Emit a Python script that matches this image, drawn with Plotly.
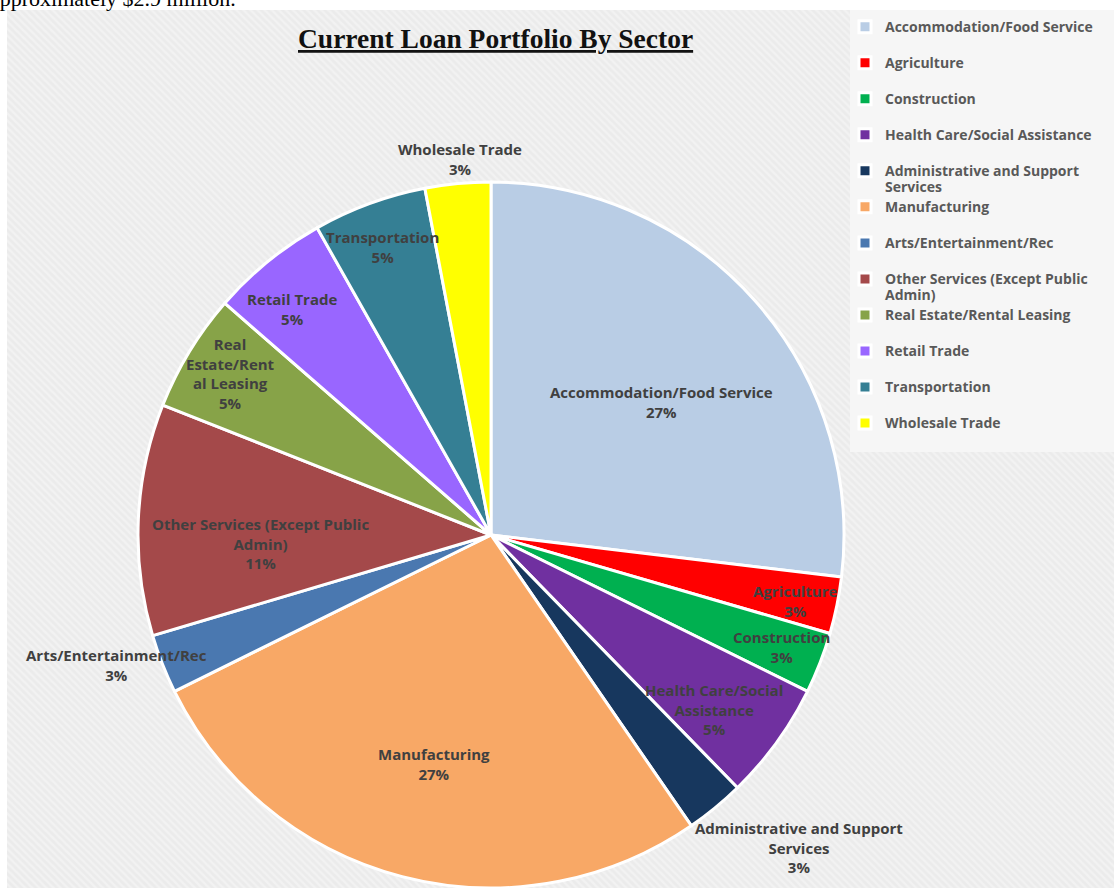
import math
import plotly.graph_objects as go

# ---------------- data ----------------
sectors = [
    "Accommodation/Food Service",
    "Agriculture",
    "Construction",
    "Health Care/Social Assistance",
    "Administrative and Support Services",
    "Manufacturing",
    "Arts/Entertainment/Rec",
    "Other Services (Except Public Admin)",
    "Real Estate/Rental Leasing",
    "Retail Trade",
    "Transportation",
    "Wholesale Trade",
]
shares = [26.9, 2.6, 2.8, 5.4, 2.7, 27.3, 2.7, 10.6, 5.4, 5.4, 5.2, 3.0]

# display text (line breaks as in the original)
slice_text = [
    "Accommodation/Food Service",
    "Agriculture",
    "Construction",
    "Health Care/Social<br>Assistance",
    "Administrative and Support<br>Services",
    "Manufacturing",
    "Arts/Entertainment/Rec",
    "Other Services (Except Public<br>Admin)",
    "Real<br>Estate/Rent<br>al Leasing",
    "Retail Trade",
    "Transportation",
    "Wholesale Trade",
]
legend_lines = [
    ["Accommodation/Food Service", " "],
    ["Agriculture", " "],
    ["Construction", " "],
    ["Health Care/Social Assistance", " "],
    ["Administrative and Support", "Services"],
    ["Manufacturing", " "],
    ["Arts/Entertainment/Rec", " "],
    ["Other Services (Except Public", "Admin)"],
    ["Real Estate/Rental Leasing", " "],
    ["Retail Trade", " "],
    ["Transportation", " "],
    ["Wholesale Trade", " "],
]

# ---------------- style ----------------
colors = ["#b9cde5", "#ff0000", "#00b050", "#7030a0", "#17375e", "#f8a866",
          "#4a78b0", "#a4494a", "#87a348", "#9966ff", "#357f94", "#ffff00"]
label_radius = [0.612, 0.884, 0.881, 0.803, 1.243, 0.669, 1.124, 0.653, 0.868, 0.853, 0.873, 1.068]
label_nudge_deg = [3.7, 0.7, -0.2, 2.0, -5.1, -0.7, 2.3, -4.7, 0.5, -2.1, -0.5, 0.7]

W, H = 1114, 888
CX, CY, R = 491, 535, 353   # pie centre / radius in pixels

legend_text = ["<br>".join(f"<span style='font-size:14px'>{ln}</span>" for ln in lines)
               for lines in legend_lines]

fig = go.Figure()

# striped chart background (decorative)
fig.add_trace(go.Scatter(
    x=[7 / W, 1, 1, 7 / W, 7 / W], y=[0, 0, 1 - 10 / H, 1 - 10 / H, 0],
    mode="lines", fill="toself", line=dict(width=0),
    fillcolor="#eeeeee",
    fillpattern=dict(shape="\\", bgcolor="#ebebeb", fgcolor="#f9f9f9", size=5, solidity=0.45),
    hoverinfo="skip", showlegend=False,
))

fig.add_trace(go.Pie(
    labels=legend_text,
    values=shares,
    sort=False,
    direction="clockwise",
    rotation=0,
    textinfo="none",
    marker=dict(colors=colors, line=dict(color="white", width=3)),
    domain=dict(x=[(CX - R) / W, (CX + R) / W], y=[(H - CY - R) / H, (H - CY + R) / H]),
    customdata=sectors,
    hovertemplate="%{customdata}: %{percent}<extra></extra>",
))

annotations = []
total = sum(shares)
cum = 0.0
for name, v, rf, nd in zip(slice_text, shares, label_radius, label_nudge_deg):
    mid = (cum + v / 2) / total * 360 + nd
    cum += v
    px = CX + rf * R * math.sin(math.radians(mid))
    py = CY - rf * R * math.cos(math.radians(mid))
    annotations.append(dict(
        x=px / W, y=1 - py / H, xref="paper", yref="paper",
        text=f"{name}<br>{round(v / total * 100)}%", showarrow=False,
        font=dict(family="Open Sans", size=15, color="#404040", weight="bold"),
        align="center", xanchor="center", yanchor="middle",
    ))

# title
annotations.append(dict(
    x=495 / W, y=1 - 38 / H, xref="paper", yref="paper",
    text="<b><u>Current Loan Portfolio By Sector</u></b>", showarrow=False,
    font=dict(family="Liberation Serif", size=27.5, color="#111111"),
    xanchor="center", yanchor="middle",
))
# cut-off document text above the chart
annotations.append(dict(
    x=0, y=1, xref="paper", yref="paper", xanchor="left", yanchor="bottom",
    xshift=-12, yshift=-13,
    text="approximately $2.9 million.", showarrow=False,
    font=dict(family="Liberation Serif", size=22, color="#000000"),
))

fig.update_layout(
    width=W, height=H,
    margin=dict(l=0, r=0, t=0, b=0),
    paper_bgcolor="white", plot_bgcolor="rgba(0,0,0,0)",
    xaxis=dict(visible=False, range=[0, 1], domain=[0, 1], fixedrange=True),
    yaxis=dict(visible=False, range=[0, 1], domain=[0, 1], fixedrange=True),
    showlegend=True,
    legend=dict(
        x=845 / W, y=1 - 12 / H, xanchor="left", yanchor="top",
        font=dict(family="Open Sans", size=12.7, color="#595959", weight="bold"),
        bgcolor="rgba(0,0,0,0)", valign="top", traceorder="normal",
    ),
    shapes=[dict(type="rect", xref="paper", yref="paper", layer="above",
                 x0=850 / W, x1=1, y0=1 - 452 / H, y1=1 - 10 / H,
                 fillcolor="#f6f6f6", line=dict(width=0))],
    annotations=annotations,
)

fig.write_html("out.html", config={"displayModeBar": False},
               post_script="document.body.style.margin='0';")
